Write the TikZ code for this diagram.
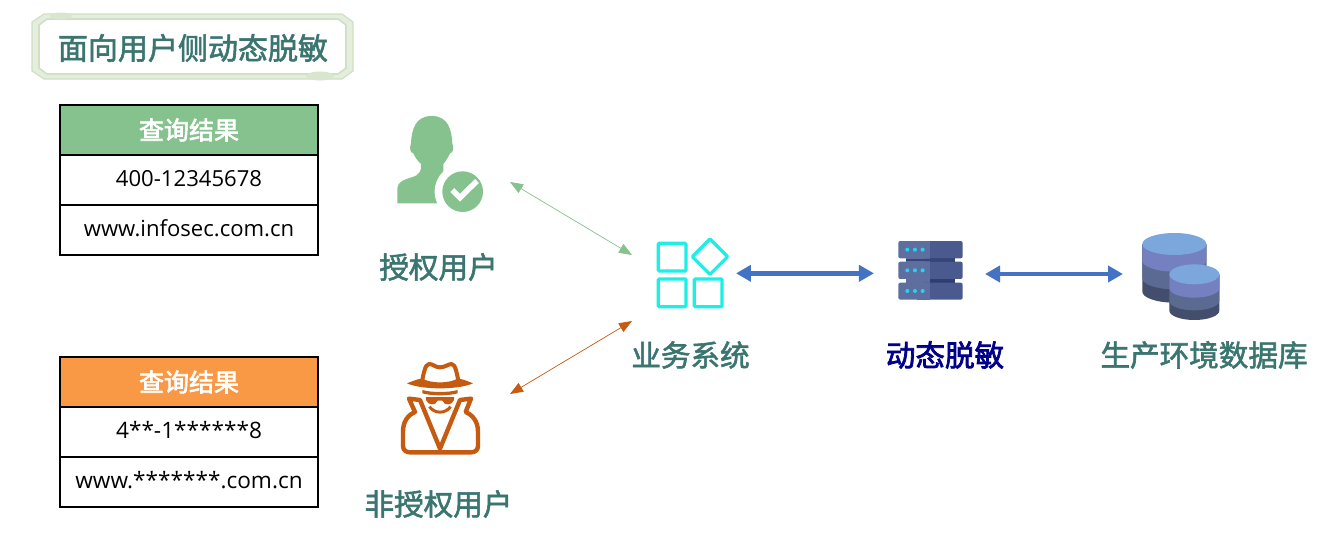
\documentclass[tikz,border=0pt]{standalone}
\usepackage{fontspec}
\setmainfont{Open Sans}
\newfontfamily\cjk{Noto Sans CJK SC}[FakeBold=1.9]
\newfontfamily\cjkb{Noto Sans CJK SC}[FakeBold=2.4]
\usetikzlibrary{arrows.meta,calc}
\definecolor{txtgreen}{HTML}{3B7570}
\definecolor{navy}{HTML}{00008B}
\definecolor{okgreen}{HTML}{86C28D}
\definecolor{warnorange}{HTML}{F99845}
\definecolor{spy}{HTML}{C55A11}
\definecolor{arrowblue}{HTML}{4472C4}
\definecolor{frameg}{HTML}{CFE0C3}
\definecolor{frameh}{HTML}{D9E6CE}
\definecolor{teal}{HTML}{1BEFE6}
\definecolor{srvl}{HTML}{5E6F9F}
\definecolor{srvr}{HTML}{4A5A8E}
\definecolor{srvd}{HTML}{2F3D70}
\definecolor{srvdot}{HTML}{22D3F5}
\definecolor{dbtop}{HTML}{7BA7DC}
\definecolor{dba}{HTML}{7480C0}
\definecolor{dbb}{HTML}{5A6A90}
\definecolor{dbc}{HTML}{434E6C}
\tikzset{
 cell/.style={draw=black,line width=1.8pt,minimum width=258pt,minimum height=50pt,inner sep=0pt,font=\fontsize{22.1pt}{26pt}\selectfont,text=black},
 maskcell/.style={cell,font=\fontsize{22.6pt}{26pt}\selectfont},
 headcell/.style={cell,font=\cjkb\fontsize{25pt}{28pt}\selectfont,text=white},
 lab/.style={inner sep=0pt,text=txtgreen,font=\cjk\fontsize{29.6pt}{32pt}\selectfont},
 thin arrow/.style={line width=0.7pt,{Triangle[length=13pt,width=10pt]}-{Triangle[length=13pt,width=10pt]}},
 blue arrow/.style={draw=arrowblue,line width=4.4pt,{Triangle[length=15pt,width=16pt]}-{Triangle[length=15pt,width=16pt]}},
}
\newcommand{\cylband}[6]{% cx rx ry ytop ybottom colour
 \fill[#6] (#1-#2,#4) -- (#1-#2,#5) arc[start angle=180,end angle=360,x radius=#2,y radius=-#3] -- (#1+#2,#4) -- cycle;}
\newcommand{\srvunit}[2]{% ytop ybottom
 \fill[srvr,rounded corners=2pt] (850,#1) rectangle (968,#2);
 \fill[srvl,rounded corners=2pt] (775,#1) rectangle (850,#2);
 \fill[srvl] (830,#1) rectangle (871,#2);}
\begin{document}
\begin{tikzpicture}[x=1pt,y=-1pt]
\useasboundingbox (0,0) rectangle (1344,541);
\fill[white] (0,0) rectangle (1344,541);
% title frame
\path[fill=frameg!55,draw=frameg,line width=1.2pt] (44,14) -- (342,14) -- (353,22) -- (353,71) -- (342,79) -- (44,79) -- (32,71) -- (32,22) -- cycle;
\path[fill=white,draw=frameg,line width=1.6pt] (47,19) -- (338,19) -- (346,25) -- (346,68) -- (338,74) -- (47,74) -- (39,68) -- (39,25) -- cycle;
\fill[frameh] (61,16) ellipse[x radius=11,y radius=3.5];
\fill[frameh] (320,76) ellipse[x radius=14,y radius=4.5];
\node[lab,font=\cjk\fontsize{30pt}{32pt}\selectfont] (title) at (193,48) {面向用户侧动态脱敏};
% tables
\node[headcell,fill=okgreen] (h1) at (189,130) {\raisebox{2pt}{查询结果}};
\node[cell] (a1) at (189,180) {\raisebox{4pt}{400-12345678}};
\node[cell] (a2) at (189,230) {\raisebox{4pt}{www.infosec.com.cn}};
\node[headcell,fill=warnorange] (h2) at (189,382) {\raisebox{2pt}{查询结果}};
\node[maskcell] (b1) at (189,432) {\raisebox{4pt}{4**-1******8}};
\node[maskcell] (b2) at (189,482) {\raisebox{4pt}{www.*******.com.cn}};
% authorised user icon
\begin{scope}[shift={(380,100)},x=0.3333pt,y=-0.3333pt]
\fill[okgreen] (52,310) -- (52,265) .. controls (52,245) and (75,238) .. (95,232) .. controls (120,225) and (125,212) .. (123,192) .. controls (110,180) and (105,170) .. (100,160) .. controls (90,158) and (88,145) .. (93,130) .. controls (95,90) and (105,48) .. (155,48) .. controls (205,48) and (215,90) .. (217,130) .. controls (222,145) and (220,158) .. (210,160) .. controls (205,172) and (198,182) .. (190,192) -- (190,310) -- cycle;
\fill[white] (248,275) circle[radius=84];
\fill[okgreen] (248,275) circle[radius=61];
\draw[white,line width=5.5pt] (217,270) -- (240,293) -- (291,243);
\end{scope}
\node[lab] (auth) at (438.5,267) {授权用户};
% spy icon
\begin{scope}[shift={(385,350)},x=0.3333pt,y=-0.3333pt,line join=round]
\draw[spy,line width=4pt] (110,100) .. controls (115,75) and (120,42) .. (132,42) .. controls (145,42) and (150,52) .. (165,52) .. controls (180,52) and (190,42) .. (200,42) .. controls (212,42) and (216,75) .. (222,100);
\fill[spy] (66,100) .. controls (95,88) and (105,86) .. (112,86) .. controls (140,101) and (190,101) .. (218,86) .. controls (228,86) and (240,90) .. (264,100) .. controls (220,120) and (110,120) .. (66,100) -- cycle;
\fill[spy] (112,120) .. controls (140,128) and (190,128) .. (218,120) -- (218,130) .. controls (190,138) and (140,138) .. (112,130) -- cycle;
\fill[spy] (122,141) -- (208,141) -- (206,152) .. controls (200,166) and (178,168) .. (172,152) -- (158,152) .. controls (152,168) and (130,166) .. (124,152) -- cycle;
\draw[spy,line width=3pt] (133,170) .. controls (150,192) and (180,192) .. (197,170);
\draw[spy,line width=4.4pt] (165,296) -- (105,150) -- (72,146) -- (90,186) .. controls (68,196) and (54,215) .. (54,245) -- (54,288) .. controls (54,302) and (65,307) .. (75,307) -- (258,307) .. controls (268,307) and (279,302) .. (279,288) -- (279,245) .. controls (279,215) and (264,196) .. (242,186) -- (258,146) -- (225,150) -- cycle;
\end{scope}
\node[lab] (unauth) at (438.5,504) {非授权用户};
% business system icon
\begin{scope}[shift={(640,225)},x=0.3333pt,y=-0.3333pt]
\draw[teal,line width=3.2pt,rounded corners=1pt] (55,55) rectangle (138,138);
\draw[teal,line width=3.2pt,rounded corners=1pt] (55,162) rectangle (138,245);
\draw[teal,line width=3.2pt,rounded corners=1pt] (163,162) rectangle (246,245);
\draw[teal,line width=3.2pt,rounded corners=1pt] (210,42) -- (263,95) -- (210,148) -- (157,95) -- cycle;
\coordinate (appR) at (288,145);
\coordinate (srvL) at (702,145);
% server icon
\fill[srvd] (797,95) rectangle (945,180);
\fill[srvl] (797,100) rectangle (870,110);
\fill[srvl] (797,162) rectangle (870,173);
\fill[srvd!85!srvl] (797,101) rectangle (945,109);
\srvunit{48}{100}
\srvunit{110}{162}
\srvunit{173}{224}
\foreach \yy in {74,136,198}{\foreach \xx in {802,825,848}{\fill[srvdot] (\xx,\yy) circle[radius=6];}}
\end{scope}
\node[lab] (biz) at (690.5,355) {业务系统};
\node[lab,font=\cjkb\fontsize{29.6pt}{32pt}\selectfont,text=navy] (mask) at (945,355) {动态脱敏};
% database icon
\begin{scope}[shift={(1125,220)},x=0.3333pt,y=-0.3333pt]
\cylband{148}{96}{33}{72}{215}{dbc}
\cylband{148}{96}{33}{72}{175}{dbb}
\cylband{148}{96}{33}{72}{122}{dba}
\fill[dbtop] (148,72) ellipse[x radius=96,y radius=33];
\cylband{208}{75}{28}{163}{272}{dbc}
\cylband{208}{75}{28}{163}{243}{dbb}
\cylband{208}{75}{28}{163}{205}{dba}
\fill[dbtop] (208,163) ellipse[x radius=75,y radius=30];
\end{scope}
\node[lab] (db) at (1204,355) {生产环境数据库};
% connector ends
\coordinate (authEnd) at (510,182);
\coordinate (bizTop) at (632,255);
\coordinate (unauthEnd) at (510,394);
\coordinate (bizBot) at (632,321);
\coordinate (srvR) at (985,274);
\coordinate (dbL) at (1123,274);
\draw[thin arrow,okgreen] (authEnd) -- (bizTop);
\draw[thin arrow,spy] (unauthEnd) -- (bizBot);
\draw[blue arrow] (appR) -- (srvL);
\draw[blue arrow] (srvR) -- (dbL);
\end{tikzpicture}
\end{document}
